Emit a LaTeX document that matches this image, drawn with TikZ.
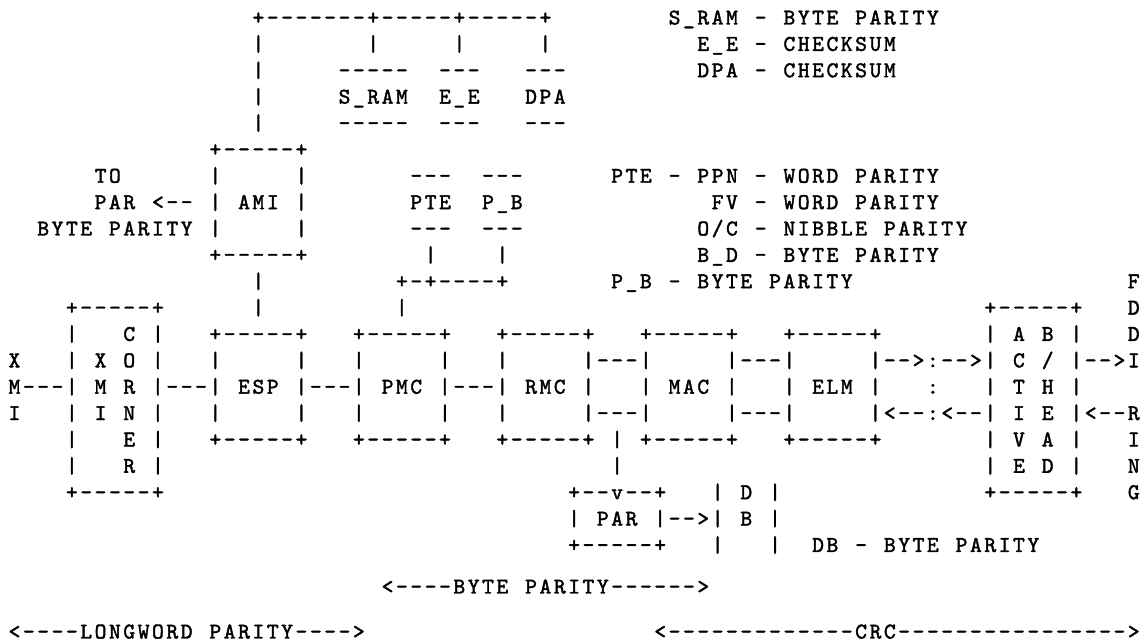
\documentclass[tikz,border=0pt]{standalone}
\usepackage{fontspec}
\newfontfamily\asc{lmmono10-regular.otf}[FakeBold=1.8]
\newlength\cw \setlength\cw{14.35pt}
\def\seq#1{\ifx#1\relax\else\makebox[\cw]{#1}\expandafter\seq\fi}
\tikzset{asc/.style={anchor=base west, inner sep=0pt, outer sep=0pt, font=\asc\fontsize{22.5}{26}\selectfont}}
\newcommand\tokat[4]{\node[asc] (#1) at ({7.3pt+14.35pt*#2},{#3}) {\seq#4\relax};}
\newcommand\tok[3]{\tokat{t#1c#2}{#2}{617.5pt-26.37pt*#1}{#3}}
\begin{document}
\begin{tikzpicture}
\fill[white] (0,0) rectangle (1145pt,642pt);
\useasboundingbox (0,0) rectangle (1145pt,642pt);
% row 0
\tok{0}{17}{+-------+-----+-----+}
\tok{0}{46}{S\_RAM~-~BYTE~PARITY}
% row 1
\tok{1}{17}{|}\tok{1}{25}{|}\tok{1}{31}{|}\tok{1}{37}{|}
\tok{1}{48}{E\_E~-~CHECKSUM}
% row 2
\tok{2}{17}{|}\tok{2}{23}{-----}\tok{2}{30}{---}\tok{2}{36}{---}
\tok{2}{48}{DPA~-~CHECKSUM}
% row 3
\tok{3}{17}{|}\tok{3}{23}{S\_RAM}\tok{3}{30}{E\_E}\tok{3}{36}{DPA}
% row 4
\tok{4}{17}{|}\tok{4}{23}{-----}\tok{4}{30}{---}\tok{4}{36}{---}
% row 5
\tok{5}{14}{+-----+}
% row 6
\tok{6}{6}{TO}\tok{6}{14}{|}\tok{6}{20}{|}\tok{6}{28}{---}\tok{6}{33}{---}
\tok{6}{42}{PTE~-~PPN~-~WORD~PARITY}
% row 7
\tok{7}{6}{PAR~<--}\tok{7}{14}{|~AMI~|}\tok{7}{28}{PTE}\tok{7}{33}{P\_B}
\tok{7}{49}{FV~-~WORD~PARITY}
% row 8
\tok{8}{2}{BYTE~PARITY}\tok{8}{14}{|}\tok{8}{20}{|}\tok{8}{28}{---}\tok{8}{33}{---}
\tok{8}{48}{O/C~-~NIBBLE~PARITY}
% row 9
\tok{9}{14}{+-----+}\tok{9}{29}{|}\tok{9}{34}{|}
\tok{9}{48}{B\_D~-~BYTE~PARITY}
% row 10
\tok{10}{17}{|}\tok{10}{27}{+-+----+}
\tok{10}{42}{P\_B~-~BYTE~PARITY}\tok{10}{78}{F}
% row 11
\tok{11}{4}{+-----+}\tok{11}{17}{|}\tok{11}{27}{|}\tok{11}{68}{+-----+}\tok{11}{78}{D}
% row 12
\tok{12}{4}{|}\tok{12}{8}{C}\tok{12}{10}{|}
\tok{12}{14}{+-----+}\tok{12}{24}{+-----+}\tok{12}{34}{+-----+}\tok{12}{44}{+-----+}\tok{12}{54}{+-----+}
\tok{12}{68}{|~A~B~|}\tok{12}{78}{D}
% row 13
\tok{13}{0}{X}\tok{13}{4}{|~X~O~|}
\tok{13}{14}{|}\tok{13}{20}{|}\tok{13}{24}{|}\tok{13}{30}{|}\tok{13}{34}{|}
\tok{13}{40}{|---|}\tok{13}{50}{|---|}
\tok{13}{60}{|-->:-->|~C~/~|-->I}
% row 14
\tok{14}{0}{M---|~M~R~|---|~ESP~|---|~PMC~|---|~RMC~|}
\tok{14}{44}{|~MAC~|}\tok{14}{54}{|~ELM~|}\tok{14}{64}{:}\tok{14}{68}{|~T~H~|}
% row 15
\tok{15}{0}{I}\tok{15}{4}{|~I~N~|}
\tok{15}{14}{|}\tok{15}{20}{|}\tok{15}{24}{|}\tok{15}{30}{|}\tok{15}{34}{|}
\tok{15}{40}{|---|}\tok{15}{50}{|---|}
\tok{15}{60}{|<--:<--|~I~E~|<--R}
% row 16
\tok{16}{4}{|}\tok{16}{8}{E}\tok{16}{10}{|}
\tok{16}{14}{+-----+}\tok{16}{24}{+-----+}\tok{16}{34}{+-----+}\tok{16}{42}{|}
\tok{16}{44}{+-----+}\tok{16}{54}{+-----+}
\tok{16}{68}{|~V~A~|}\tok{16}{78}{I}
% row 17
\tok{17}{4}{|}\tok{17}{8}{R}\tok{17}{10}{|}\tok{17}{42}{|}
\tok{17}{68}{|~E~D~|}\tok{17}{78}{N}
% row 18
\tok{18}{4}{+-----+}\tok{18}{39}{+--v--+}\tok{18}{49}{|~D~|}\tok{18}{68}{+-----+}\tok{18}{78}{G}
% row 19
\tok{19}{39}{|~PAR~|-->|~B~|}
% row 20
\tok{20}{39}{+-----+}\tok{20}{49}{|}\tok{20}{53}{|}
\tok{20}{56}{DB~-~BYTE~PARITY}
% bottom rows
\tokat{byteparity}{26}{48.5pt}{<----BYTE~PARITY------>}
\tokat{longword}{0}{3.5pt}{<----LONGWORD~PARITY---->}
\tokat{crc}{45}{3.5pt}{<-------------CRC---------------->}
\end{tikzpicture}
\end{document}
